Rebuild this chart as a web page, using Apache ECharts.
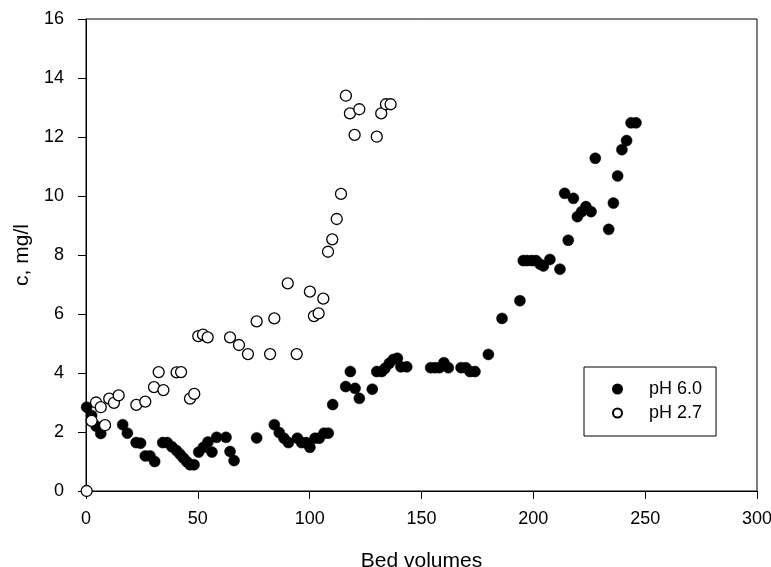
<!DOCTYPE html>
<html>
<head>
<meta charset="utf-8">
<script src="https://cdn.jsdelivr.net/npm/echarts@6/dist/echarts.min.js"></script>
<style>
  html, body { margin: 0; padding: 0; background: #fff; }
  #chart { width: 771px; height: 567px; }
</style>
</head>
<body>
<div id="chart"></div>
<script>
// Effluent concentration vs. bed volumes for two feed pH values
const bedVolPh60 = [
  0.3, 2.5, 4.5, 6.6, 16.4, 18.5, 22.4, 24.4, 26.5, 28.6, 30.7, 34.3, 36.3, 38.4, 40.5,
  42.0, 43.5, 45.0, 46.5, 48.3, 50.4, 52.5, 54.5, 56.3, 58.4, 62.6, 64.4, 66.2, 76.3,
  84.2, 86.4, 88.5, 90.5, 94.5, 96.4, 98.4, 100.1, 102.4, 104.3, 106.4, 108.3, 110.3,
  116.1, 118.2, 120.3, 122.2, 128.0, 130.0, 132.2, 133.7, 135.6, 137.4, 139.2, 140.8,
  143.4, 154.1, 156.0, 158.0, 160.0, 162.0, 167.7, 169.8, 171.7, 173.9, 179.9, 186.0,
  194.0, 195.5, 197.3, 199.3, 201.2, 203.0, 204.5, 207.4, 211.9, 214.0, 215.6, 217.9,
  219.7, 221.6, 223.5, 225.8, 227.7, 233.7, 235.8, 237.7, 239.6, 241.7, 243.7, 245.9
];
const concPh60 = [
  2.84, 2.56, 2.2, 1.95, 2.25, 1.96, 1.64, 1.62, 1.19, 1.19, 1.0, 1.64, 1.64, 1.5, 1.37,
  1.25, 1.12, 1.0, 0.89, 0.89, 1.32, 1.48, 1.66, 1.32, 1.82, 1.82, 1.34, 1.03, 1.8,
  2.25, 1.98, 1.79, 1.64, 1.79, 1.64, 1.64, 1.48, 1.79, 1.79, 1.96, 1.96, 2.93,
  3.54, 4.05, 3.48, 3.14, 3.45, 4.05, 4.05, 4.16, 4.33, 4.46, 4.5, 4.21,
  4.21, 4.18, 4.18, 4.18, 4.35, 4.18, 4.18, 4.18, 4.05, 4.05, 4.63, 5.85,
  6.45, 7.81, 7.81, 7.81, 7.81, 7.69, 7.63, 7.85, 7.52, 10.09, 8.5, 9.92,
  9.3, 9.47, 9.64, 9.47, 11.28, 8.87, 9.76, 10.68, 11.57, 11.88, 12.48, 12.48
];

const bedVolPh27 = [
  0.3, 2.5, 4.5, 6.6, 8.5, 10.4, 12.5, 14.6, 22.5, 26.5, 30.4, 32.5, 34.6, 40.5, 42.5,
  46.5, 48.4, 50.2, 52.3, 54.4, 64.4, 68.4, 72.4, 76.3, 82.3, 84.2, 90.2, 94.2, 100.1,
  101.9, 104.0, 106.1, 108.2, 110.1, 112.1, 114.0, 116.2, 118.0, 120.1, 122.2, 130.0,
  132.0, 134.1, 136.2
];
const concPh27 = [
  0.0, 2.38, 3.0, 2.84, 2.23, 3.13, 2.99, 3.24, 2.92, 3.03, 3.52, 4.03, 3.42, 4.02, 4.03,
  3.13, 3.29, 5.25, 5.3, 5.21, 5.21, 4.95, 4.64, 5.75, 4.64, 5.85, 7.04, 4.64, 6.76,
  5.93, 6.02, 6.52, 8.11, 8.53, 9.22, 10.07, 13.4, 12.8, 12.07, 12.94, 12.01,
  12.8, 13.11, 13.11
];

const seriesNames = ['pH 6.0', 'pH 2.7'];
const xTitle = 'Bed volumes';
const yTitle = 'c, mg/l';

const zip = (xs, ys) => xs.map((x, i) => [x, ys[i]]);

const fontFamily = '"Liberation Sans", Arial, sans-serif';
const axisCommon = {
  axisLine: { show: true, lineStyle: { color: '#000', width: 1 } },
  axisTick: { show: true, inside: false, length: 8, lineStyle: { color: '#000', width: 1 } },
  splitLine: { show: false },
  nameLocation: 'middle',
  nameTextStyle: { color: '#000', fontSize: 21, fontFamily: fontFamily },
  axisLabel: { color: '#000', fontSize: 18, fontFamily: fontFamily }
};

const chart = echarts.init(document.getElementById('chart'), null, { renderer: 'canvas' });
chart.setOption({
  animation: false,
  backgroundColor: '#fff',
  grid: {
    left: 86, right: 14, top: 19, bottom: 76,
    outerBoundsMode: 'none',
    containLabel: false,
    show: true, borderColor: '#000', borderWidth: 1, backgroundColor: 'transparent'
  },
  xAxis: Object.assign({}, axisCommon, {
    type: 'value', min: 0, max: 300, interval: 50,
    name: xTitle, nameGap: 60,
    axisLabel: Object.assign({}, axisCommon.axisLabel, { margin: 19 })
  }),
  yAxis: Object.assign({}, axisCommon, {
    type: 'value', min: 0, max: 16, interval: 2,
    name: yTitle, nameGap: 50,
    axisLabel: Object.assign({}, axisCommon.axisLabel, { margin: 22 })
  }),
  legend: {
    orient: 'vertical',
    left: 584, top: 367,
    padding: [13, 14, 14, 28],
    itemGap: 6,
    itemWidth: 9, itemHeight: 9,
    borderColor: '#000', borderWidth: 1,
    backgroundColor: '#fff',
    data: seriesNames.map(n => ({ name: n, icon: 'circle' })),
    textStyle: {
      color: '#000', fontSize: 18, fontFamily: fontFamily,
      lineHeight: 18, padding: [0, 0, 0, 22]
    }
  },
  series: [
    {
      name: seriesNames[0],
      type: 'scatter',
      symbol: 'circle',
      symbolSize: 11,
      clip: false,
      itemStyle: { color: '#000', borderColor: '#000', borderWidth: 0.5, opacity: 1 },
      data: zip(bedVolPh60, concPh60)
    },
    {
      name: seriesNames[1],
      type: 'scatter',
      symbol: 'circle',
      symbolSize: 11,
      clip: false,
      itemStyle: { color: '#fff', borderColor: '#000', borderWidth: 1.3, opacity: 1 },
      data: zip(bedVolPh27, concPh27)
    }
  ]
});
</script>
</body>
</html>
